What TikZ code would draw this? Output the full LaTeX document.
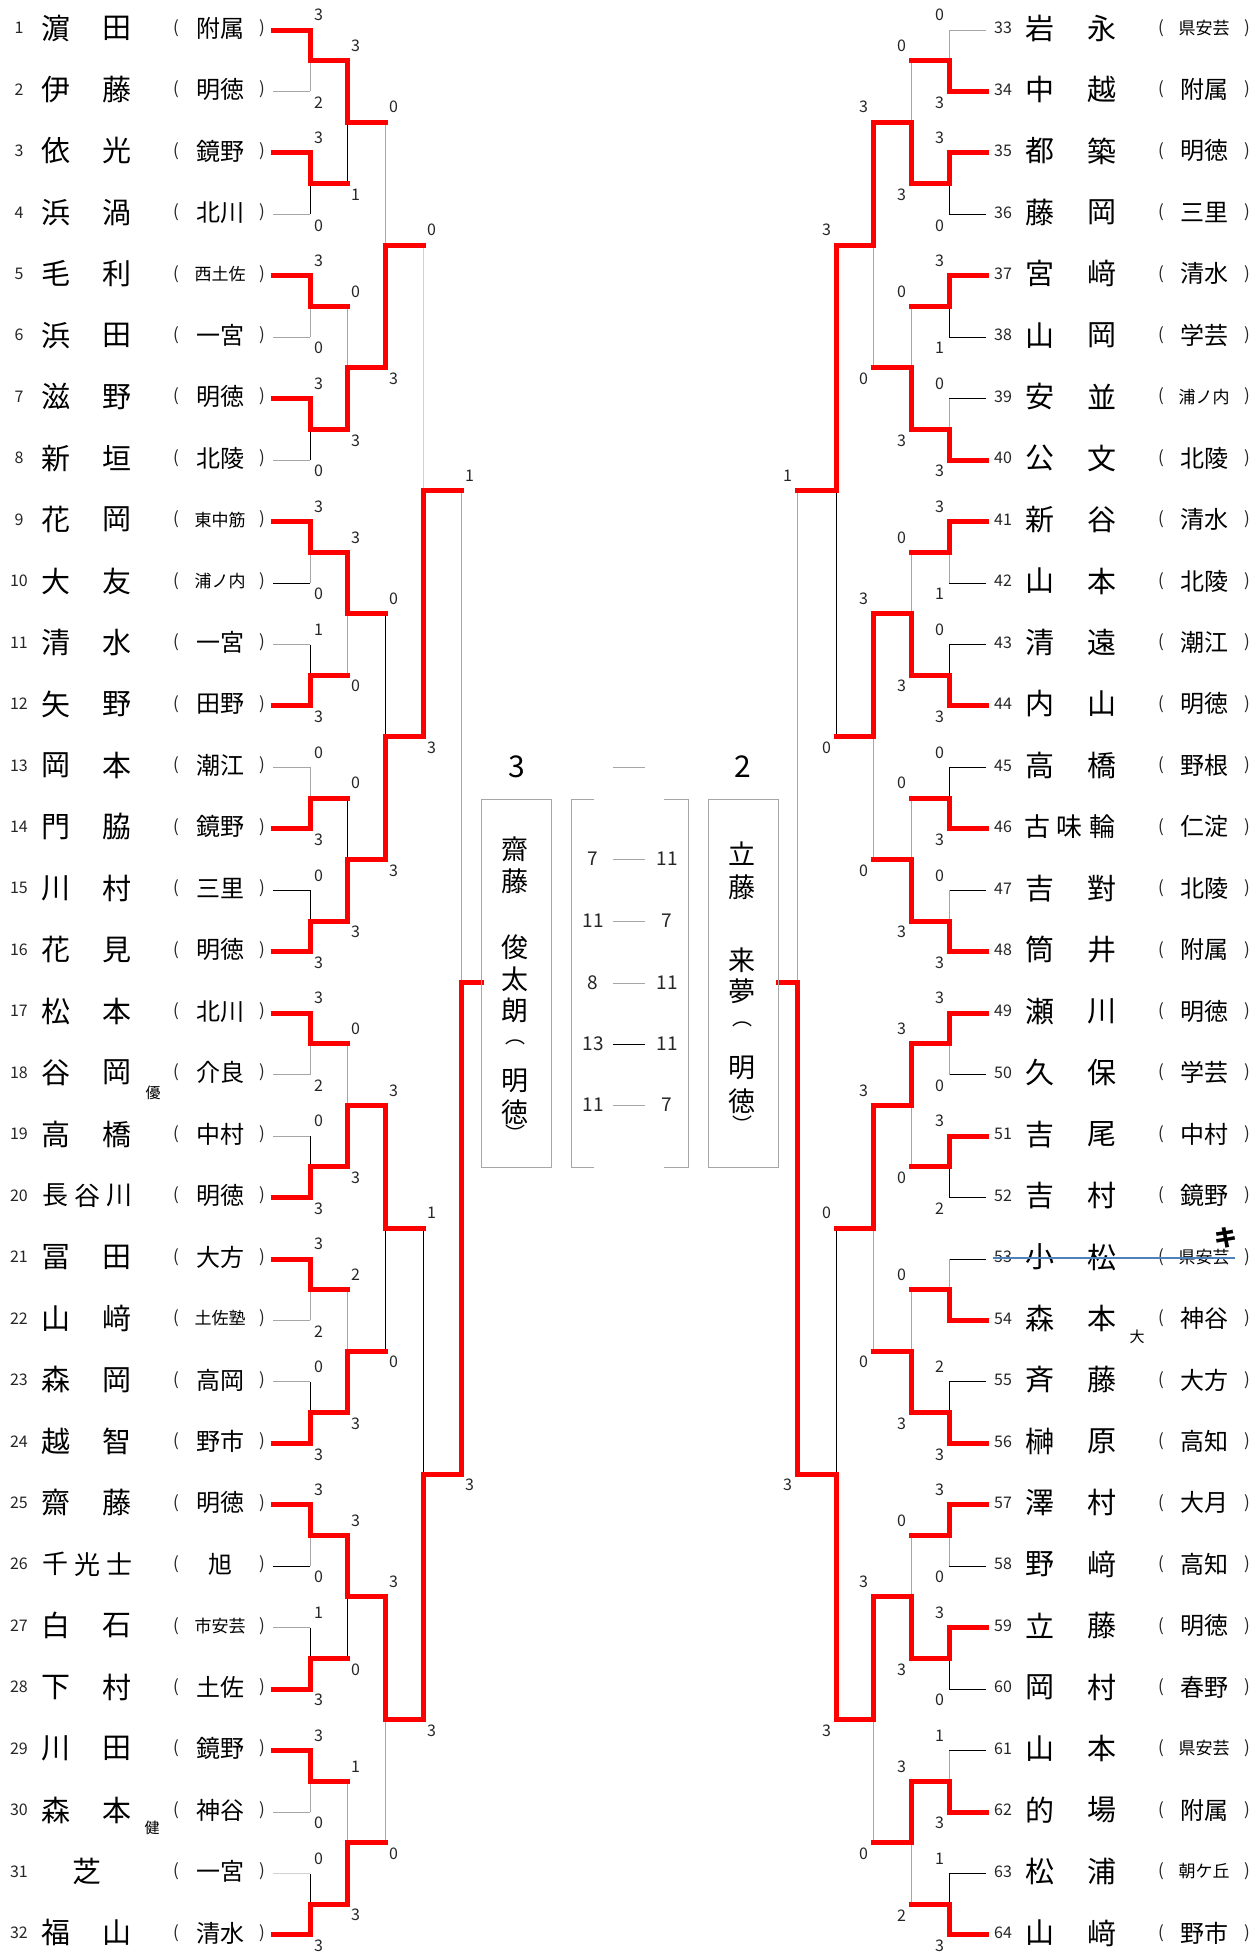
\documentclass[tikz,border=0pt]{standalone}
\usepackage{fontspec}
\setmainfont{Noto Sans CJK JP}
\pgfdeclarelayer{bg}
\pgfdeclarelayer{thinlayer}
\pgfsetlayers{bg,thinlayer,main}
\definecolor{gr}{HTML}{A6A6A6}
\definecolor{lg}{HTML}{D0D0D0}
\definecolor{txt}{HTML}{262626}
\definecolor{bl}{HTML}{4F81BD}
\newcounter{nn}
\newcommand\Ry[1]{30+((#1)-1)*61.45}
\newcommand\scores[3]{%
  \stepcounter{nn}\node[sc] (sc\arabic{nn}) at ({#1+(\sdx)},{\yt-15}) {#2};%
  \stepcounter{nn}\node[sc] (sc\arabic{nn}) at ({#1+(\sdx)},{\yb+11}) {#3};%
}
% first round match: top row, winner t/b, top score, bottom score, loser horizontal colour, loser vertical colour
\newcommand\firstM[6]{%
  \pgfmathsetmacro\yt{\Ry{#1}}%
  \pgfmathsetmacro\yb{\Ry{#1+1}}%
  \pgfmathsetmacro\ym{(\yt+\yb)/2}%
  \if#2t\let\yw\yt\let\yl\yb\else\let\yw\yb\let\yl\yt\fi
  \begin{pgfonlayer}{thinlayer}%
    \draw[lose,draw=#5] (\xs,\yl) -- (\xa,\yl);%
    \draw[lose,draw=#6] (\xa,\yl) -- (\xa,\ym);%
  \end{pgfonlayer}%
  \draw[win] (\xs,\yw) -- (\xa,\yw) -- (\xa,\ym) -- (\xb,\ym);%
  \scores{\xa}{#3}{#4}%
}
% later match: X, Xnext, top row, bottom row, winner t/b, top score, bottom score, loser colour
\newcommand\M[8]{%
  \pgfmathsetmacro\yt{\Ry{#3}}%
  \pgfmathsetmacro\yb{\Ry{#4}}%
  \pgfmathsetmacro\ym{(\yt+\yb)/2}%
  \if#5t\let\yw\yt\let\yl\yb\else\let\yw\yb\let\yl\yt\fi
  \begin{pgfonlayer}{thinlayer}%
    \draw[lose,draw=#8] (#1,\yl) -- (#1,\ym);%
  \end{pgfonlayer}%
  \draw[win] (#1,\yw) -- (#1,\ym) -- (#2,\ym);%
  \scores{#1}{#6}{#7}%
}
\newcommand\PL[6]{%
  \pgfmathsetmacro\yy{\Ry{#1}-2}%
  \node[num] (n#2) at (19,\yy) {#2};%
  \node[nm] (a#2) at (56,\yy) {#3};%
  \node[nm] (b#2) at (117,\yy) {#4};%
  \node[par] (o#2) at (176,\yy) {(};%
  \node[#6] (k#2) at (220,\yy) {#5};%
  \node[par] (c#2) at (262,\yy) {)};%
}
\newcommand\PR[6]{%
  \pgfmathsetmacro\yy{\Ry{#1}-2}%
  \node[num] (n#2) at (1003,\yy) {#2};%
  \node[nm] (a#2) at (1040,\yy) {#3};%
  \node[nm] (b#2) at (1102,\yy) {#4};%
  \node[par] (o#2) at (1161,\yy) {(};%
  \node[#6] (k#2) at (1204,\yy) {#5};%
  \node[par] (c#2) at (1247,\yy) {)};%
}
\begin{document}
\begin{tikzpicture}[x=1pt,y=-1pt,
  win/.style={draw=red,line width=5pt,line cap=rect,line join=miter},
  lose/.style={line width=0.9pt},
  num/.style={font=\fontsize{16}{16}\selectfont,text=txt,inner sep=0pt},
  nm/.style={font=\fontsize{29}{29}\selectfont,inner sep=0pt},
  nm3/.style={font=\fontsize{26}{26}\selectfont,inner sep=0pt},
  par/.style={font=\fontsize{17}{17}\selectfont,text=txt,inner sep=0pt},
  sch/.style={font=\fontsize{24}{24}\selectfont,inner sep=0pt},
  schs/.style={font=\fontsize{17}{17}\selectfont,inner sep=0pt},
  sc/.style={font=\fontsize{16}{16}\selectfont,text=txt,inner sep=0pt},
  tag/.style={font=\fontsize{15}{15}\selectfont,inner sep=0pt},
  vn/.style={font=\fontsize{27}{27}\selectfont,inner sep=0pt},
  vp/.style={font=\fontsize{20}{20}\selectfont,inner sep=0pt},
  gs/.style={font=\fontsize{19}{19}\selectfont,text=txt,inner sep=0pt},
  big/.style={font=\fontsize{30}{30}\selectfont,inner sep=0pt},
  frame/.style={draw=gr,line width=1pt}]
\useasboundingbox (0,0) rectangle (1259,1952);
\begin{pgfonlayer}{bg}
  \fill[white] (0,0) rectangle (1259,1952);
\end{pgfonlayer}

% ---------------- left players
\PL{1}{1}{濵}{田}{附属}{sch}
\PL{2}{2}{伊}{藤}{明徳}{sch}
\PL{3}{3}{依}{光}{鏡野}{sch}
\PL{4}{4}{浜}{渦}{北川}{sch}
\PL{5}{5}{毛}{利}{西土佐}{schs}
\PL{6}{6}{浜}{田}{一宮}{sch}
\PL{7}{7}{滋}{野}{明徳}{sch}
\PL{8}{8}{新}{垣}{北陵}{sch}
\PL{9}{9}{花}{岡}{東中筋}{schs}
\PL{10}{10}{大}{友}{浦ノ内}{schs}
\PL{11}{11}{清}{水}{一宮}{sch}
\PL{12}{12}{矢}{野}{田野}{sch}
\PL{13}{13}{岡}{本}{潮江}{sch}
\PL{14}{14}{門}{脇}{鏡野}{sch}
\PL{15}{15}{川}{村}{三里}{sch}
\PL{16}{16}{花}{見}{明徳}{sch}
\PL{17}{17}{松}{本}{北川}{sch}
\PL{18}{18}{谷}{岡}{介良}{sch}
\PL{19}{19}{高}{橋}{中村}{sch}
\PL{20}{20}{}{}{明徳}{sch}
\PL{21}{21}{冨}{田}{大方}{sch}
\PL{22}{22}{山}{﨑}{土佐塾}{schs}
\PL{23}{23}{森}{岡}{高岡}{sch}
\PL{24}{24}{越}{智}{野市}{sch}
\PL{25}{25}{齋}{藤}{明徳}{sch}
\PL{26}{26}{}{}{旭}{sch}
\PL{27}{27}{白}{石}{市安芸}{schs}
\PL{28}{28}{下}{村}{土佐}{sch}
\PL{29}{29}{川}{田}{鏡野}{sch}
\PL{30}{30}{森}{本}{神谷}{sch}
\PL{31}{31}{}{}{一宮}{sch}
\PL{32}{32}{福}{山}{清水}{sch}
\pgfmathsetmacro\yy{\Ry{20}-2}
\node[nm3] (x20a) at (55,\yy) {長};
\node[nm3] (x20b) at (87,\yy) {谷};
\node[nm3] (x20c) at (119,\yy) {川};
\pgfmathsetmacro\yy{\Ry{26}-2}
\node[nm3] (x26a) at (55,\yy) {千};
\node[nm3] (x26b) at (87,\yy) {光};
\node[nm3] (x26c) at (119,\yy) {士};
\pgfmathsetmacro\yy{\Ry{31}-2}
\node[nm] (x31a) at (87,\yy) {芝};
\node[tag] (t18) at (153,1093) {優};
\node[tag] (t30) at (152,1828) {健};

% ---------------- right players
\PR{1}{33}{岩}{永}{県安芸}{schs}
\PR{2}{34}{中}{越}{附属}{sch}
\PR{3}{35}{都}{築}{明徳}{sch}
\PR{4}{36}{藤}{岡}{三里}{sch}
\PR{5}{37}{宮}{﨑}{清水}{sch}
\PR{6}{38}{山}{岡}{学芸}{sch}
\PR{7}{39}{安}{並}{浦ノ内}{schs}
\PR{8}{40}{公}{文}{北陵}{sch}
\PR{9}{41}{新}{谷}{清水}{sch}
\PR{10}{42}{山}{本}{北陵}{sch}
\PR{11}{43}{清}{遠}{潮江}{sch}
\PR{12}{44}{内}{山}{明徳}{sch}
\PR{13}{45}{高}{橋}{野根}{sch}
\PR{14}{46}{}{}{仁淀}{sch}
\PR{15}{47}{吉}{對}{北陵}{sch}
\PR{16}{48}{筒}{井}{附属}{sch}
\PR{17}{49}{瀬}{川}{明徳}{sch}
\PR{18}{50}{久}{保}{学芸}{sch}
\PR{19}{51}{吉}{尾}{中村}{sch}
\PR{20}{52}{吉}{村}{鏡野}{sch}
\PR{21}{53}{小}{松}{県安芸}{schs}
\PR{22}{54}{森}{本}{神谷}{sch}
\PR{23}{55}{斉}{藤}{大方}{sch}
\PR{24}{56}{榊}{原}{高知}{sch}
\PR{25}{57}{澤}{村}{大月}{sch}
\PR{26}{58}{野}{﨑}{高知}{sch}
\PR{27}{59}{立}{藤}{明徳}{sch}
\PR{28}{60}{岡}{村}{春野}{sch}
\PR{29}{61}{山}{本}{県安芸}{schs}
\PR{30}{62}{的}{場}{附属}{sch}
\PR{31}{63}{松}{浦}{朝ケ丘}{schs}
\PR{32}{64}{山}{﨑}{野市}{sch}
\pgfmathsetmacro\yy{\Ry{14}-2}
\node[nm3] (x46a) at (1037,\yy) {古};
\node[nm3] (x46b) at (1069,\yy) {味};
\node[nm3] (x46c) at (1102,\yy) {輪};
\node[tag] (t54) at (1137,1337) {大};

% ---------------- left bracket
\def\xs{273}\def\xa{310}\def\xb{347}\def\sdx{8.5}
\firstM{1}{t}{3}{2}{gr}{gr}
\firstM{3}{t}{3}{0}{gr}{black}
\firstM{5}{t}{3}{0}{gr}{gr}
\firstM{7}{t}{3}{0}{gr}{black}
\firstM{9}{t}{3}{0}{black}{gr}
\firstM{11}{b}{1}{3}{gr}{black}
\firstM{13}{b}{0}{3}{gr}{gr}
\firstM{15}{b}{0}{3}{black}{black}
\firstM{17}{t}{3}{2}{gr}{gr}
\firstM{19}{b}{0}{3}{gr}{black}
\firstM{21}{t}{3}{2}{gr}{gr}
\firstM{23}{b}{0}{3}{gr}{black}
\firstM{25}{t}{3}{0}{black}{gr}
\firstM{27}{b}{1}{3}{gr}{black}
\firstM{29}{t}{3}{0}{gr}{gr}
\firstM{31}{b}{0}{3}{lg}{black}
\M{347}{385}{1.5}{3.5}{t}{3}{1}{black}
\M{347}{385}{5.5}{7.5}{b}{0}{3}{gr}
\M{347}{385}{9.5}{11.5}{t}{3}{0}{gr}
\M{347}{385}{13.5}{15.5}{b}{0}{3}{black}
\M{347}{385}{17.5}{19.5}{b}{0}{3}{gr}
\M{347}{385}{21.5}{23.5}{b}{2}{3}{gr}
\M{347}{385}{25.5}{27.5}{t}{3}{0}{black}
\M{347}{385}{29.5}{31.5}{b}{1}{3}{gr}
\M{385}{423}{2.5}{6.5}{b}{0}{3}{gr}
\M{385}{423}{10.5}{14.5}{b}{0}{3}{black}
\M{385}{423}{18.5}{22.5}{t}{3}{0}{black}
\M{385}{423}{26.5}{30.5}{t}{3}{0}{gr}
\M{423}{461}{4.5}{12.5}{b}{0}{3}{lg}
\M{423}{461}{20.5}{28.5}{b}{1}{3}{black}
\M{461}{481}{8.5}{24.5}{b}{1}{3}{gr}

% ---------------- right bracket
\def\xs{986}\def\xa{949}\def\xb{911}\def\sdx{-9.5}
\firstM{1}{b}{0}{3}{gr}{gr}
\firstM{3}{t}{3}{0}{black}{black}
\firstM{5}{t}{3}{1}{black}{black}
\firstM{7}{b}{0}{3}{black}{gr}
\firstM{9}{t}{3}{1}{black}{gr}
\firstM{11}{b}{0}{3}{black}{black}
\firstM{13}{b}{0}{3}{black}{black}
\firstM{15}{b}{0}{3}{black}{gr}
\firstM{17}{t}{3}{0}{black}{gr}
\firstM{19}{t}{3}{2}{black}{black}
\firstM{21}{b}{}{}{black}{gr}
\firstM{23}{b}{2}{3}{black}{black}
\firstM{25}{t}{3}{0}{black}{gr}
\firstM{27}{t}{3}{0}{black}{black}
\firstM{29}{b}{1}{3}{black}{gr}
\firstM{31}{b}{1}{3}{black}{black}
\M{911}{873}{1.5}{3.5}{b}{0}{3}{gr}
\M{911}{873}{5.5}{7.5}{b}{0}{3}{gr}
\M{911}{873}{9.5}{11.5}{b}{0}{3}{gr}
\M{911}{873}{13.5}{15.5}{b}{0}{3}{gr}
\M{911}{873}{17.5}{19.5}{t}{3}{0}{gr}
\M{911}{873}{21.5}{23.5}{b}{0}{3}{gr}
\M{911}{873}{25.5}{27.5}{b}{0}{3}{gr}
\M{911}{873}{29.5}{31.5}{t}{3}{2}{gr}
\M{873}{836}{2.5}{6.5}{t}{3}{0}{gr}
\M{873}{836}{10.5}{14.5}{t}{3}{0}{gr}
\M{873}{836}{18.5}{22.5}{t}{3}{0}{gr}
\M{873}{836}{26.5}{30.5}{t}{3}{0}{gr}
\M{836}{797}{4.5}{12.5}{t}{3}{0}{black}
\M{836}{797}{20.5}{28.5}{b}{0}{3}{black}
\M{797}{778}{8.5}{24.5}{b}{1}{3}{gr}

% ---------------- centre
\draw[frame] (481,799) rectangle (551,1167);
\draw[frame] (708,799) rectangle (778,1167);
\draw[frame] (594,799) -- (571,799) -- (571,1167) -- (594,1167);
\draw[frame] (664,799) -- (688,799) -- (688,1167) -- (664,1167);
\node[big] (fsL) at (517,767) {3};
\node[big] (fsR) at (743,767) {2};
\coordinate (dA) at (613,767); \coordinate (dB) at (645,767);
\draw[gr,line width=1pt] (dA) -- (dB);
\foreach \l/\r/\yv/\cl [count=\i] in {7/11/859/gr,11/7/921/gr,8/11/983/gr,13/11/1044/black,11/7/1105/gr}{
  \node[gs] (gl\i) at (593,\yv) {\l};
  \node[gs] (gr\i) at (667,\yv) {\r};
  \draw[\cl,line width=1pt] (613,\yv) -- (645,\yv);
}
\foreach \c/\yv [count=\i] in {齋/849,藤/881,俊/947,太/979,朗/1010,明/1081,徳/1112}{
  \node[vn] (vl\i) at (515,\yv) {\c};
}
\node[vp] (vlo) at (515,1042) {︵};
\node[vp] (vlc) at (515,1133) {︶};
\foreach \c/\yv [count=\i] in {立/854,藤/887,来/960,夢/991,明/1068,徳/1101}{
  \node[vn] (vr\i) at (742,\yv) {\c};
}
\node[vp] (vro) at (742,1024) {︵};
\node[vp] (vrc) at (742,1124) {︶};

% ---------------- withdrawal mark
\coordinate (stA) at (993,1258); \coordinate (stB) at (1235,1258);
\draw[bl,line width=1.8pt] (stA) -- (stB);
\node[font=\fontsize{23}{23}\selectfont\bfseries,inner sep=0pt] (ki) at (1226,1238) {キ};
\end{tikzpicture}
\end{document}
